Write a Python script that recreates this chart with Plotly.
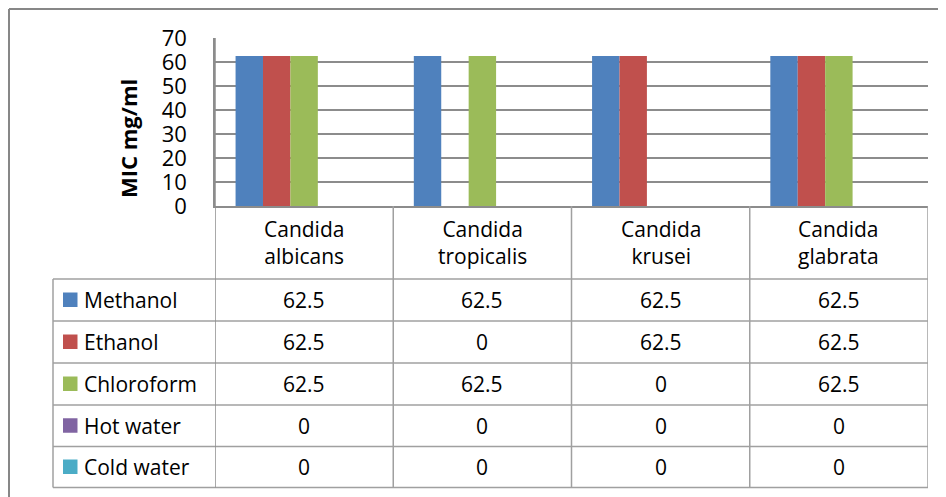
import plotly.graph_objects as go

# ---------------- data ----------------
categories = ["Candida albicans", "Candida tropicalis", "Candida krusei", "Candida glabrata"]
category_labels = ["Candida<br>albicans", "Candida<br>tropicalis", "Candida<br>krusei", "Candida<br>glabrata"]
series_names = ["Methanol", "Ethanol", "Chloroform", "Hot water", "Cold water"]
methanol = [62.5, 62.5, 62.5, 62.5]
ethanol = [62.5, 0, 62.5, 62.5]
chloroform = [62.5, 62.5, 0, 62.5]
hot_water = [0, 0, 0, 0]
cold_water = [0, 0, 0, 0]
series_values = [methanol, ethanol, chloroform, hot_water, cold_water]
colors = ["#4F81BD", "#C0504D", "#9BBB59", "#8064A2", "#4BACC6"]
y_title = "MIC mg/ml"

# ---------------- layout geometry (page pixels) ----------------
O = 8                      # browser body margin
W, H = 946 - O, 497 - O    # figure size
PL, PR, PT, PB = 215, 928, 38, 206   # plot area in page pixels
L, T = PL - O, PT - O
R = W - (PR - O)
B = H - (PB - O)
PW, PH = PR - PL, PB - PT
FONT = "Open Sans"
LINE = "#A0A0A0"
GRID = "#8C8C8C"
FS = 21


def px(xp):  # page pixel -> paper x
    return (xp - PL) / PW


def py(yp):  # page pixel -> paper y
    return (PB - yp) / PH


fig = go.Figure()
for name, vals, col in zip(series_names, series_values, colors):
    fig.add_trace(go.Bar(x=categories, y=vals, name=name, marker_color=col,
                         marker_line_width=0, showlegend=False))

shapes = []
annotations = []

# outer chart border (left & top visible)
shapes.append(dict(type="line", xref="paper", yref="paper", x0=px(O + 1), x1=px(950), y0=py(O + 1), y1=py(O + 1),
                   line=dict(color="#878787", width=2)))
shapes.append(dict(type="line", xref="paper", yref="paper", x0=px(O + 1), x1=px(O + 1), y0=py(O + 1), y1=py(505),
                   line=dict(color="#878787", width=2)))

# data table geometry
header_bottom = 279
row_edges = [279, 321, 363, 405, 446.5, 487.5]
left_col = 53

for yy in row_edges:
    shapes.append(dict(type="line", xref="paper", yref="paper", x0=px(left_col), x1=px(PR),
                       y0=py(yy), y1=py(yy), line=dict(color=LINE, width=1.5)))
n = len(categories)
for i in range(n + 1):
    xb = i - 0.5
    shapes.append(dict(type="line", xref="x", yref="paper", x0=xb, x1=xb,
                       y0=py(PB) if i > 0 else py(PT), y1=py(row_edges[-1]),
                       line=dict(color=LINE if i > 0 else GRID, width=1.5)))
shapes.append(dict(type="line", xref="paper", yref="paper", x0=px(left_col), x1=px(left_col),
                   y0=py(header_bottom), y1=py(row_edges[-1]), line=dict(color=LINE, width=1.5)))

for cat, lab in zip(categories, category_labels):
    annotations.append(dict(x=cat, xref="x", y=py((PB + header_bottom) / 2), yref="paper",
                            text=lab, showarrow=False, xanchor="center", yanchor="middle",
                            font=dict(family=FONT, size=FS, color="#000000")))

for r, (name, vals, col) in enumerate(zip(series_names, series_values, colors)):
    yc = (row_edges[r] + row_edges[r + 1]) / 2
    shapes.append(dict(type="rect", xref="paper", yref="paper", x0=px(63), x1=px(77.5),
                       y0=py(yc - 7.5), y1=py(yc + 7), fillcolor=col, line=dict(width=0)))
    annotations.append(dict(x=px(82), xref="paper", y=py(yc), yref="paper", text=name,
                            showarrow=False, xanchor="left", yanchor="middle",
                            font=dict(family=FONT, size=FS, color="#000000")))
    for cat, v in zip(categories, vals):
        annotations.append(dict(x=cat, xref="x", y=py(yc), yref="paper", text=f"{v:g}",
                                showarrow=False, xanchor="center", yanchor="middle",
                                font=dict(family=FONT, size=FS, color="#000000")))

annotations.append(dict(x=px(128), xref="paper", y=py(139), yref="paper", text=f"<b>{y_title}</b>",
                        textangle=-90, showarrow=False, xanchor="center", yanchor="middle",
                        font=dict(family=FONT, size=22, color="#000000")))

fig.update_layout(
    width=W, height=H,
    margin=dict(l=L, r=R, t=T, b=B, pad=0),
    paper_bgcolor="white", plot_bgcolor="white",
    barmode="group", bargap=1.5 / 6.5, bargroupgap=0,
    shapes=shapes, annotations=annotations,
    font=dict(family=FONT, color="#000000"),
)
fig.update_xaxes(showticklabels=False, showgrid=False, showline=True, linecolor=GRID, linewidth=1.5,
                 ticks="", range=[-0.5, n - 0.5], fixedrange=True)
fig.update_yaxes(range=[0, 70], dtick=10, tick0=0, showgrid=True, gridcolor=GRID, gridwidth=1.5,
                 zeroline=False, showline=True, linecolor=GRID, linewidth=1.5, ticks="",
                 ticklabelstandoff=22, tickfont=dict(family=FONT, size=22, color="#000000"))

fig.write_html("out.html")
